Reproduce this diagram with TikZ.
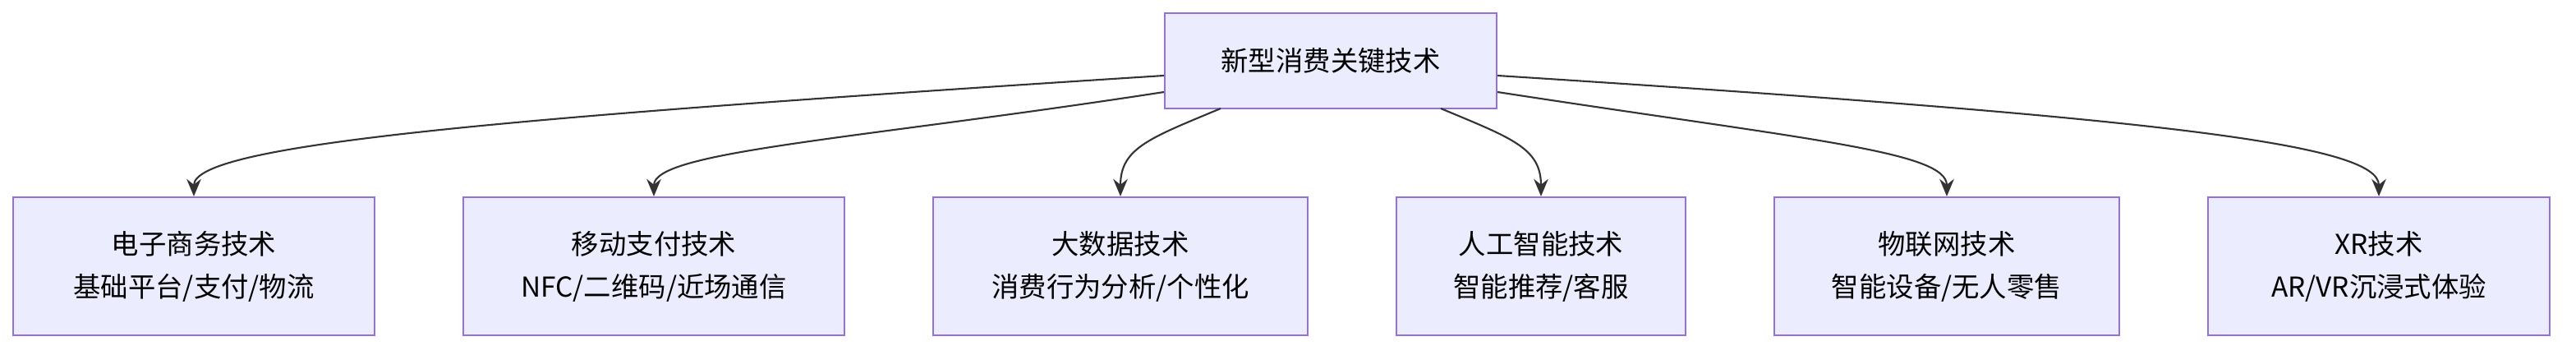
\documentclass[tikz,border=0pt]{standalone}
\usepackage{fontspec}
\setmainfont{Noto Sans CJK SC}
\usetikzlibrary{arrows.meta}
\begin{document}
\begin{tikzpicture}[x=0.02cm,y=-0.02cm,
  box/.style={draw=violet!60!blue!70,draw={rgb,255:red,147;green,112;blue,219},fill={rgb,255:red,236;green,236;blue,255},line width=0.6pt,align=center,inner sep=0pt,font=\fontsize{9.5}{14.8}\selectfont},
  edge/.style={line width=0.6pt,draw={rgb,255:red,51;green,51;blue,51},-{Stealth[length=6pt,width=5pt]}}]
\useasboundingbox (0,0) rectangle (1568,216);
\node[box,minimum width=202*0.02cm,minimum height=58*0.02cm] (top) at (810,37) {新型消费关键技术};
\node[box,minimum width=220*0.02cm,minimum height=84*0.02cm] (n1) at (118,162) {电子商务技术\\基础平台/支付/物流};
\node[box,minimum width=232*0.02cm,minimum height=84*0.02cm] (n2) at (398,162) {移动支付技术\\NFC/二维码/近场通信};
\node[box,minimum width=228*0.02cm,minimum height=84*0.02cm] (n3) at (682,162) {大数据技术\\消费行为分析/个性化};
\node[box,minimum width=176*0.02cm,minimum height=84*0.02cm] (n4) at (938,162) {人工智能技术\\智能推荐/客服};
\node[box,minimum width=210*0.02cm,minimum height=84*0.02cm] (n5) at (1185,162) {物联网技术\\智能设备/无人零售};
\node[box,minimum width=208*0.02cm,minimum height=84*0.02cm] (n6) at (1448,162) {XR技术\\AR/VR沉浸式体验};
\draw[edge] (top.west |- 0,46) .. controls (300,72) and (118,88) .. (n1.north);
\draw[edge] (top.west |- 0,56) .. controls (520,85) and (398,92) .. (n2.north);
\draw[edge] (743,66) .. controls (700,84) and (682,90) .. (n3.north);
\draw[edge] (877,66) .. controls (920,84) and (938,90) .. (n4.north);
\draw[edge] (top.east |- 0,56) .. controls (1100,85) and (1185,92) .. (n5.north);
\draw[edge] (top.east |- 0,46) .. controls (1320,72) and (1448,88) .. (n6.north);
\end{tikzpicture}
\end{document}
